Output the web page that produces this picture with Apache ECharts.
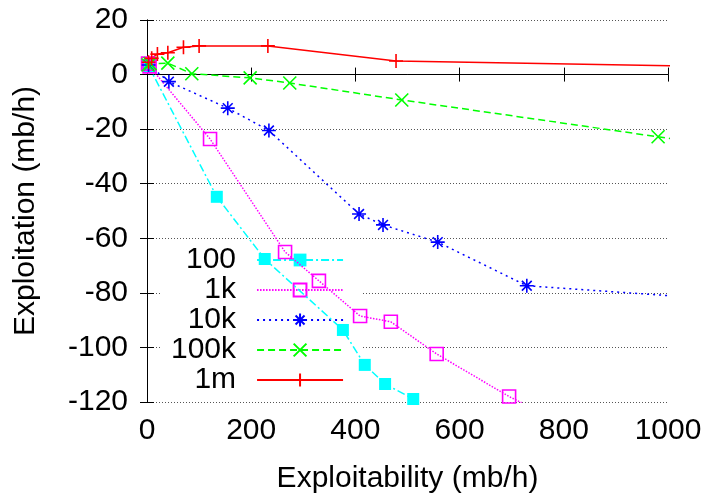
<!DOCTYPE html>
<html lang="en" style="height: 100%">
<head>
  <meta charset="utf-8">
</head>
<body style="height: 100%; margin: 0">
  <div id="container" style="height: 100%"></div>

<script type="text/javascript" src="https://cdn.jsdelivr.net/npm/echarts@6/dist/echarts.min.js"></script>

<script type="text/javascript">
var dom = document.getElementById('container');
var myChart = echarts.init(dom, null, { renderer: 'canvas' });

// data (mb/h)
var s100X  = [2, 5, 134, 226, 376, 418, 457, 511, 560];
var s100Y  = [3.5, 3, -44.8, -67.6, -93.6, -106.4, -113.4, -118.9, -125];
var s1kX   = [2, 5, 121, 265, 330, 409, 468, 556, 695, 800];
var s1kY   = [4, 3, -23.6, -65, -75.6, -88.5, -90.6, -102.4, -118, -128];
var s10kX  = [3, 42, 155, 234, 407, 453, 558, 729, 1300];
var s10kY  = [3.5, -2.6, -12.3, -20.5, -51.1, -55.1, -61.4, -77.4, -85];
var s100kX = [2, 6, 40, 86, 198, 274, 489, 981, 1400];
var s100kY = [3.5, 4, 4.2, 0.3, -1.2, -3.1, -9.3, -22.8, -34];
var s1mX   = [3, 9, 20, 40, 70, 100, 232, 478, 1600];
var s1mY   = [4.5, 6, 7.5, 8, 10, 10.5, 10.5, 5, 1.2];

var xTicks = { min: 0, max: 1000, interval: 200 };
var yTicks = { min: -120, max: 20, interval: 20 };

var FONT = 'Liberation Sans, Arial, sans-serif';
var FS = 30;

function zip(xs, ys) {
  return xs.map(function (x, i) { return [x, ys[i]]; });
}
function plain(v) { return String(v); }

var plusPath = 'path://M0,5L10,5M5,0L5,10';
var crossPath = 'path://M0,0L10,10M10,0L0,10';
var starPath = 'path://M0,5L10,5M5,0L5,10M1.5,1.5L8.5,8.5M8.5,1.5L1.5,8.5';
var boxPath = 'path://M0,0L10,0L10,10L0,10Z';

function mk(name, xs, ys, color, dash, symbol, size, filled) {
  return {
    name: name,
    type: 'line',
    data: zip(xs, ys),
    symbol: symbol,
    symbolSize: size,
    z: 3,
    lineStyle: { color: color, width: 1.5, type: dash },
    itemStyle: filled
      ? { color: color, borderWidth: 0 }
      : { color: 'rgba(0,0,0,0)', borderColor: color, borderWidth: 1.6 },
    emphasis: { disabled: true }
  };
}

var option = {
  animation: false,
  grid: { left: 147, right: 41, top: 20, bottom: 91, outerBoundsMode: 'none' },
  legend: {
    orient: 'vertical',
    align: 'right',
    left: 162,
    top: 240,
    z: 1,
    padding: [5, 17, 5, 9],
    backgroundColor: '#fff',
    itemWidth: 86,
    itemHeight: 16,
    itemGap: 0,
    textStyle: { fontSize: FS, fontFamily: FONT, color: '#000', lineHeight: 30, padding: [0, 16, 0, 0] },
    data: ['100', '1k', '10k', '100k', '1m']
  },
  xAxis: [
    {
      type: 'value', min: xTicks.min, max: xTicks.max, interval: xTicks.interval,
      name: 'Exploitability (mb/h)', nameLocation: 'middle', nameGap: 62,
      nameTextStyle: { fontSize: FS, fontFamily: FONT, color: '#000' },
      axisLine: { lineStyle: { color: '#000', width: 1 } },
      axisTick: { inside: true, length: 7, lineStyle: { color: '#000' } },
      axisLabel: { fontSize: FS, fontFamily: FONT, color: '#000', margin: 14, formatter: plain },
      splitLine: { show: false }
    },
    {
      type: 'value', position: 'top', min: xTicks.min, max: xTicks.max, interval: xTicks.interval,
      axisLine: { show: true, lineStyle: { color: '#000', width: 1 } },
      axisTick: { inside: true, length: 7, lineStyle: { color: '#000' } },
      axisLabel: { show: false },
      splitLine: { show: false }
    }
  ],
  yAxis: [
    {
      type: 'value', min: yTicks.min, max: yTicks.max, interval: yTicks.interval,
      name: 'Exploitation (mb/h)', nameLocation: 'middle', nameGap: 106,
      nameTextStyle: { fontSize: FS, fontFamily: FONT, color: '#000' },
      axisLine: { show: true, lineStyle: { color: '#000', width: 1 } },
      axisTick: { show: true, inside: true, length: 7, lineStyle: { color: '#000' } },
      axisLabel: { fontSize: FS, fontFamily: FONT, color: '#000', margin: 19, formatter: plain },
      splitLine: { show: true, lineStyle: { color: '#555', width: 1, type: [1, 2] } }
    },
    {
      type: 'value', position: 'right', min: yTicks.min, max: yTicks.max, interval: yTicks.interval,
      axisLine: { show: true, lineStyle: { color: '#000', width: 1 } },
      axisTick: { show: true, inside: true, length: 7, lineStyle: { color: '#000' } },
      axisLabel: { show: false },
      splitLine: { show: false }
    }
  ],
  series: [
    mk('100', s100X, s100Y, '#00ffff', [8, 3, 2, 3], 'rect', 12, true),
    mk('1k', s1kX, s1kY, '#ff00ff', [1.5, 1.5], boxPath, 13, false),
    mk('10k', s10kX, s10kY, '#0000ff', [2, 4], starPath, 14, false),
    mk('100k', s100kX, s100kY, '#00ff00', [7, 4], crossPath, 13, false),
    mk('1m', s1mX, s1mY, '#ff0000', 'solid', plusPath, 14, false)
  ]
};

myChart.setOption(option);
window.addEventListener('resize', myChart.resize);
</script>
</body>
</html>
